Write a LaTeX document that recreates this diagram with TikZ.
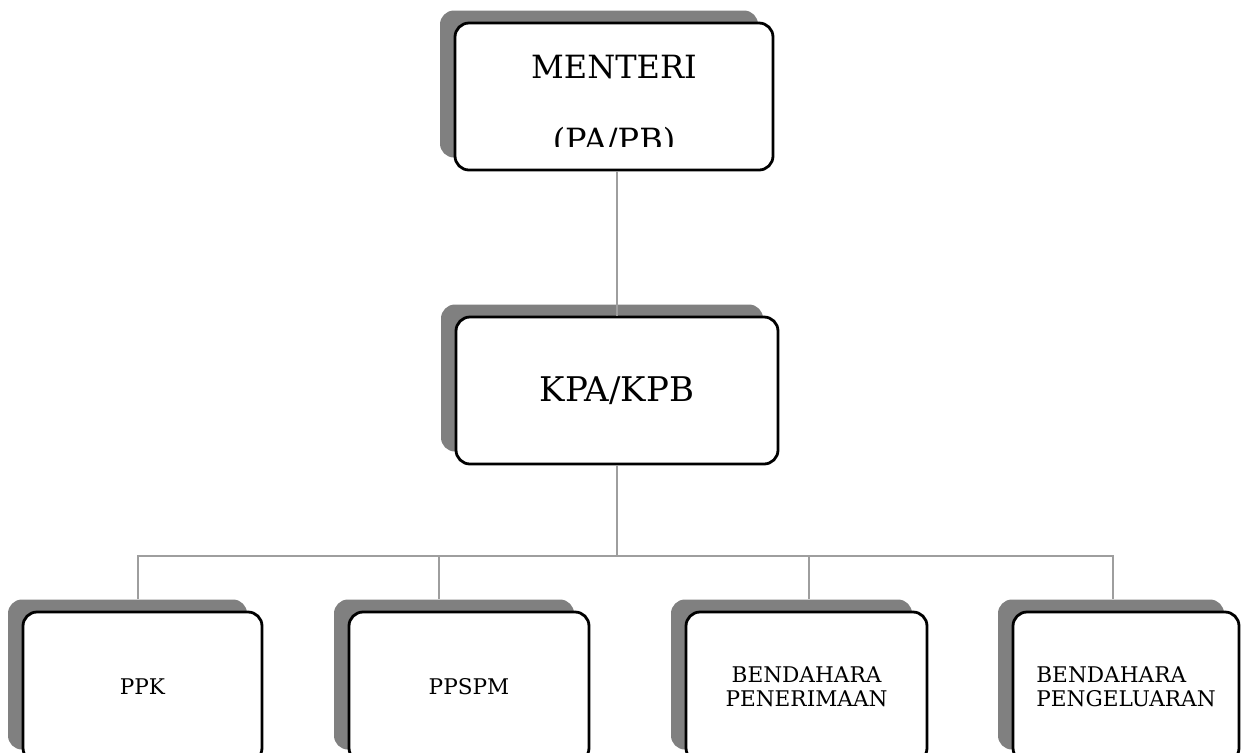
\documentclass[tikz,border=0pt]{standalone}
\usepackage{fontspec}
\setmainfont{DejaVu Serif}
\usetikzlibrary{shadows}
\tikzset{
    box/.style={draw, line width=1.4pt, fill=white, rounded corners=7pt, align=center,
        general shadow={fill=gray, shadow xshift=-7.5pt, shadow yshift=6.25pt}}, % kotak dengan bayangan
    big text/.style={font=\fontsize{16}{19}\selectfont}, % teks kotak atas
    small text/.style={font=\fontsize{10.8}{12}\selectfont}, % teks kotak bawah
    link/.style={draw=black!38, line width=1.4pt} % garis penghubung
}

\begin{document}
\begin{tikzpicture}[x=0.5pt, y=-0.5pt]
    \useasboundingbox (0,0) rectangle (1243,752);
    \clip (0,0) rectangle (1243,752);

    \node[box, minimum width=159pt, minimum height=73.5pt] (menteri) at (614,96.5) {};
    \node[big text, anchor=base] (menteriTitle) at (614,78) {MENTERI};
    \begin{scope}
        \clip (455,23) rectangle (773,146);
        \node[big text, anchor=base] (menteriSub) at (614,151) {(PA/PB)};
    \end{scope}

    \node[box, font=\fontsize{17}{20}\selectfont, minimum width=161pt, minimum height=73.5pt] (kpa) at (617,390.5) {KPA/KPB};
    \draw[link] (kpa.north) -- (kpa.north |- menteri.south);

    \node[box, small text, minimum width=119.5pt, minimum height=75pt] (ppk) at (142.5,687) {PPK};
    \node[box, small text, minimum width=120pt, minimum height=75pt] (ppspm) at (469,687) {PPSPM};
    \node[box, small text, minimum width=120.5pt, minimum height=75pt] (terima) at (806.5,687) {BENDAHARA\\PENERIMAAN};
    \node[box, small text, align=left, minimum width=113pt, minimum height=75pt] (keluar) at (1126,687) {BENDAHARA\\PENGELUARAN};

    \coordinate (bus) at (617,556);
    \draw[link] (kpa.south) -- (bus);
    \foreach \n/\x in {ppk/138, ppspm/439, terima/809, keluar/1113} {
        \coordinate (\n-in) at (\x,599);
        \draw[link] (bus) -| (\n-in);
    }
\end{tikzpicture}
\end{document}
